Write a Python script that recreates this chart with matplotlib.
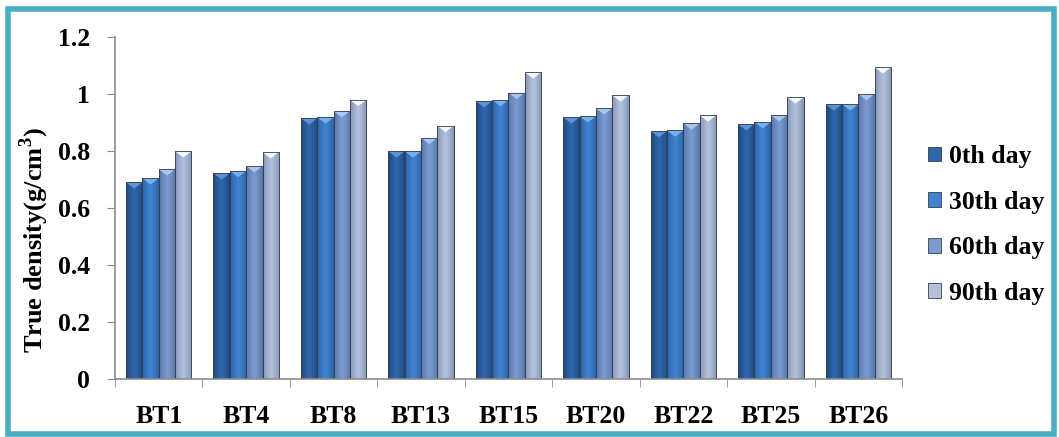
import numpy as np
import matplotlib
matplotlib.use("Agg")
import matplotlib.pyplot as plt
from matplotlib.colors import LinearSegmentedColormap
from matplotlib.patches import Rectangle, Polygon

samples = ["BT1", "BT4", "BT8", "BT13", "BT15", "BT20", "BT22", "BT25", "BT26"]
series = ["0th day", "30th day", "60th day", "90th day"]
day0 = [0.690, 0.722, 0.915, 0.799, 0.975, 0.918, 0.870, 0.894, 0.964]
day30 = [0.704, 0.730, 0.918, 0.799, 0.979, 0.922, 0.872, 0.901, 0.964]
day60 = [0.736, 0.747, 0.940, 0.846, 1.004, 0.950, 0.897, 0.926, 1.000]
day90 = [0.799, 0.796, 0.979, 0.888, 1.076, 0.995, 0.925, 0.988, 1.094]
values = [day0, day30, day60, day90]

# (edge, centre, bevel) shades per series
SHADES = [("#1c4478", "#2f66ac", "#5d93d6"),
          ("#275fa6", "#4182cf", "#78b0ee"),
          ("#4f70a6", "#7d9bd0", "#a9c6f0"),
          ("#7d8fb3", "#b3c1dc", "#f4f7fc")]

plt.rcParams["font.family"] = "Liberation Serif"
plt.rcParams["font.weight"] = "bold"
plt.rcParams["mathtext.fontset"] = "custom"
plt.rcParams["mathtext.rm"] = "Liberation Serif:bold"
plt.rcParams["mathtext.bf"] = "Liberation Serif:bold"
FS = 18.5

fig = plt.figure(figsize=(10.59, 4.37), dpi=100)
ax = fig.add_axes([115 / 1059, 1 - 379 / 437, (902 - 115) / 1059, (379 - 37) / 437])

x = np.arange(len(samples))
bw = 0.187
grad = np.concatenate([np.linspace(0, 1, 40), np.linspace(1, 0, 40)]) ** 0.7
grad = grad.reshape(1, -1)
bev = 0.022

for i, (vals, (ec, cc, bc)) in enumerate(zip(values, SHADES)):
    cmap = LinearSegmentedColormap.from_list(f"s{i}", [ec, cc])
    offs = (i - 1.5) * bw
    bars = ax.bar(x + offs, vals, bw, color=cc, edgecolor="#3a3f48", linewidth=0.6,
                  label=series[i], zorder=2)
    for b in bars:
        x0, w, h = b.get_x(), b.get_width(), b.get_height()
        im = ax.imshow(grad, cmap=cmap, aspect="auto", extent=(x0, x0 + w, 0, h), zorder=2.1)
        im.set_clip_path(b)
        tri = Polygon([(x0, h), (x0 + w, h), (x0 + w / 2, h - bev)], closed=True,
                      facecolor=bc, edgecolor="none", zorder=2.2)
        ax.add_patch(tri)
        ax.add_patch(Rectangle((x0, 0), w, h, fill=False, edgecolor="#3a3f48",
                               linewidth=0.6, zorder=2.3))

ax.set_xlim(-0.5, len(samples) - 0.5)
ax.set_ylim(0, 1.2)
ax.set_yticks(np.arange(0, 1.21, 0.2))
ax.set_yticklabels(["0", "0.2", "0.4", "0.6", "0.8", "1", "1.2"], fontsize=FS, fontweight="bold")
ax.set_xticks(x)
ax.set_xticklabels(samples, fontsize=FS, fontweight="bold")
ax.tick_params(axis="x", length=0, pad=19)
ax.set_xticks(np.arange(-0.5, len(samples)), minor=True)
ax.tick_params(axis="x", which="minor", length=6, color="#8c8c8c", direction="out")
ax.tick_params(axis="y", length=6, color="#8c8c8c", direction="out", pad=12)
for sp in ["top", "right"]:
    ax.spines[sp].set_visible(False)
for sp in ["left", "bottom"]:
    ax.spines[sp].set_color("#8c8c8c")
    ax.spines[sp].set_linewidth(1.2)
ax.set_ylabel("True density(g/cm$^\\mathbf{3}$)", fontsize=19, fontweight="bold")
ax.yaxis.set_label_coords(-0.081, 0.405)

handles = [Rectangle((0, 0), 1, 1, facecolor=s[1], edgecolor="#3a3f48", linewidth=0.6) for s in SHADES]
fig.legend(handles, series, loc="center left", bbox_to_anchor=(905 / 1059, 1 - 225 / 437),
           frameon=False, prop={"weight": "bold", "size": FS},
           handlelength=0.5, handleheight=0.5, handletextpad=0.3, labelspacing=0.88)

fig.patches.append(Rectangle((8 / 1059, 3 / 437), 1046 / 1059, 425 / 437, transform=fig.transFigure,
                             fill=False, edgecolor="#4bacc6", linewidth=4))
fig.savefig("out.png", dpi=100)
